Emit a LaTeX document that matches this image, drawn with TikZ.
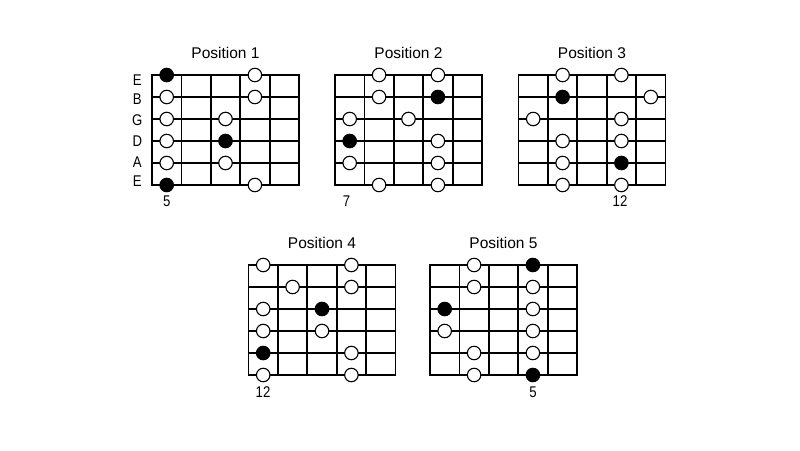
\documentclass[tikz,border=0pt]{standalone}
\usepackage{fontspec}
\setmainfont{Liberation Sans}
\newfontfamily\narrowfont[FakeStretch=0.85]{Liberation Sans}
\begin{document}
\begin{tikzpicture}[x=1pt,y=-1pt]
\tikzset{
  gridline/.style={line width=1.8pt, line cap=rect},
  wdot/.style={circle, draw=black, fill=white, line width=1.1pt, minimum size=13.5pt, inner sep=0pt},
  bdot/.style={wdot, fill=black},
  titletext/.style={font=\fontsize{15.5}{17}\selectfont, inner sep=0pt},
  labtext/.style={font=\narrowfont\fontsize{15.5}{17}\selectfont, inner sep=0pt}
}
\fill[white] (0,0) rectangle (800,450);
\useasboundingbox (0,0) rectangle (800,450);
\newcommand\fboard[5]{%
 \begin{scope}[shift={(#1,#2)}]
  \foreach \i in {0,...,5} \draw[gridline] (\i*29.4,0) -- (\i*29.4,110);
  \foreach \j in {0,...,5} \draw[gridline] (0,\j*22) -- (147,\j*22);
  \node[titletext] (#3-title) at (73.5,-22) {#4};
  \foreach \s/\c/\t in {#5}
    \node[\t dot] (#3-\s-\c) at ({(\c-0.5)*29.4},{(\s-1)*22}) {};
 \end{scope}}
\fboard{152}{75}{pa}{Position 1}{1/1/b,1/4/w,2/1/w,2/4/w,3/1/w,3/3/w,4/1/w,4/3/b,5/1/w,5/3/w,6/1/b,6/4/w}
\fboard{335}{75}{pb}{Position 2}{1/2/w,1/4/w,2/2/w,2/4/b,3/1/w,3/3/w,4/1/b,4/4/w,5/1/w,5/4/w,6/2/w,6/4/w}
\fboard{518.5}{75}{pc}{Position 3}{1/2/w,1/4/w,2/2/b,2/5/w,3/1/w,3/4/w,4/2/w,4/4/w,5/2/w,5/4/b,6/2/w,6/4/w}
\fboard{248.5}{265}{pd}{Position 4}{1/1/w,1/4/w,2/2/w,2/4/w,3/1/w,3/3/b,4/1/w,4/3/w,5/1/b,5/4/w,6/1/w,6/4/w}
\fboard{430}{265}{pe}{Position 5}{1/2/w,1/4/b,2/2/w,2/4/w,3/1/b,3/4/w,4/1/w,4/4/w,5/2/w,5/4/w,6/2/w,6/4/b}
% string names
\foreach \n/\l/\yy in {s1/E/80,s2/B/99.5,s3/G/120,s4/D/141,s5/A/162,s6/E/181.5}
  \node[labtext] (\n) at (137.3,\yy) {\l};
% fret numbers
\node[labtext] (fa) at (166.7,201) {5};
\node[labtext] (fb) at (346.5,201) {7};
\node[labtext] (fc) at (620,201.5) {12};
\node[labtext] (fd) at (263,392.5) {12};
\node[labtext] (fe) at (533,392.5) {5};
\end{tikzpicture}
\end{document}
